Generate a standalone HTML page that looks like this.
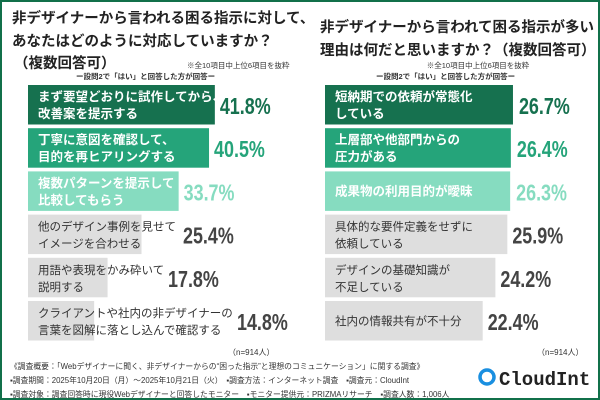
<!DOCTYPE html>
<html><head><meta charset="utf-8"><style>
body{margin:0;background:#fff}
svg{display:block;font-family:"Liberation Sans","Noto Sans CJK JP",sans-serif}
</style></head><body>
<svg id="c" width="600" height="400" viewBox="0 0 600 400">
<rect x="1" y="1" width="598" height="398" fill="#fff" stroke="#11704a" stroke-width="2"/>
<g fill="#222" font-weight="bold" font-size="14.5">
<text x="12" y="23">非デザイナーから言われる困る指示に対して、</text>
<text x="12" y="46">あなたはどのように対応していますか？</text>
<text x="14" y="68">（複数回答可）</text>
<text x="320" y="32">非デザイナーから言われて困る指示が多い</text>
<text x="320" y="55">理由は何だと思いますか？（複数回答可）</text>
</g>
<g fill="#333" font-size="7.5">
<text x="187" y="68">※全10項目中上位6項目を抜粋</text>
<text x="76" y="79" font-weight="bold">ー設問2で「はい」と回答した方が回答ー</text>
<text x="478" y="68" text-anchor="middle">※全10項目中上位6項目を抜粋</text>
<text x="376" y="79" font-weight="bold">ー設問2で「はい」と回答した方が回答ー</text>
<text x="228" y="355" font-size="8">（n=914人）</text>
<text x="537" y="355" font-size="8">（n=914人）</text>
<text x="10" y="369" font-size="7.8">《調査概要：「Webデザイナーに聞く、非デザイナーからの“困った指示”と理想のコミュニケーション」に関する調査》</text>
<text x="10" y="383" font-size="7.8">▪調査期間：2025年10月20日（月）〜2025年10月21日（火）　▪調査方法：インターネット調査　▪調査元：CloudInt</text>
<text x="10" y="397" font-size="7.8">▪調査対象：調査回答時に現役Webデザイナーと回答したモニター　▪モニター提供元：PRIZMAリサーチ　▪調査人数：1,006人</text>
</g>
<circle cx="487" cy="377" r="7" fill="none" stroke="#1a8fe0" stroke-width="3.5"/>
<text x="499" y="385" font-family="Liberation Mono,monospace" font-weight="bold" font-size="19" fill="#222">CloudInt</text>
<g id="bars"></g>
</svg>
<script>
const leftLabels=[["まず要望どおりに試作してから、","改善案を提示する"],["丁寧に意図を確認して、","目的を再ヒアリングする"],["複数パターンを提示して","比較してもらう"],["他のデザイン事例を見せて","イメージを合わせる"],["用語や表現をかみ砕いて","説明する"],["クライアントや社内の非デザイナーの","言葉を図解に落とし込んで確認する"]];
const leftValues=[41.8,40.5,33.7,25.4,17.8,14.8];
const rightLabels=[["短納期での依頼が常態化","している"],["上層部や他部門からの","圧力がある"],["成果物の利用目的が曖昧"],["具体的な要件定義をせずに","依頼している"],["デザインの基礎知識が","不足している"],["社内の情報共有が不十分"]];
const rightValues=[26.7,26.4,26.3,25.9,24.2,22.4];
const fills=["#16714f","#25a47a","#86dcc0","#dedede","#dedede","#dedede"];
const pctCol=["#16714f","#25a47a","#86dcc0","#444","#444","#444"];
const txtCol=["#fff","#fff","#fff","#333","#333","#333"];
const NS="http://www.w3.org/2000/svg";
const g=document.getElementById('bars');
const yRow=i=>85+i*43.2;
function el(t,a){const e=document.createElementNS(NS,t);for(const k in a)e.setAttribute(k,a[k]);g.appendChild(e);return e;}
function panel(side,labels,values,x0,scale,pctX){
  values.forEach((v,i)=>{
    const y=yRow(i),w=v*scale;
    const r=el('rect',{x:x0,y:y,width:w,height:39.5,fill:fills[i]});
    
    
    const ls=labels[i];
    ls.forEach((s,j)=>{
      const ty=ls.length==1?y+24:y+16+j*17;
      const t=el('text',{x:x0+10,y:ty,fill:txtCol[i],'font-size':i<3?12.5:11.5,'font-weight':i<3?'bold':'normal'});
      t.textContent=s;
      
      
    });
    const px=pctX(i,w);
    const p=el('text',{x:px,y:y+29,fill:pctCol[i],'font-size':23,'font-weight':'bold',transform:'translate('+px+' 0) scale(0.78 1) translate('+(-px)+' 0)'});
    p.textContent=v.toFixed(1)+'%';
    
    
  });
}
panel('left',leftLabels,leftValues,28,4.47,(i,w)=>i==5?237:Math.max(28+w+5,[0,0,0,183,168,0][i]));
panel('right',rightLabels,rightValues,325,7.04,(i,w)=>325+w+(i<3?6:5));
</script>
</body></html>
